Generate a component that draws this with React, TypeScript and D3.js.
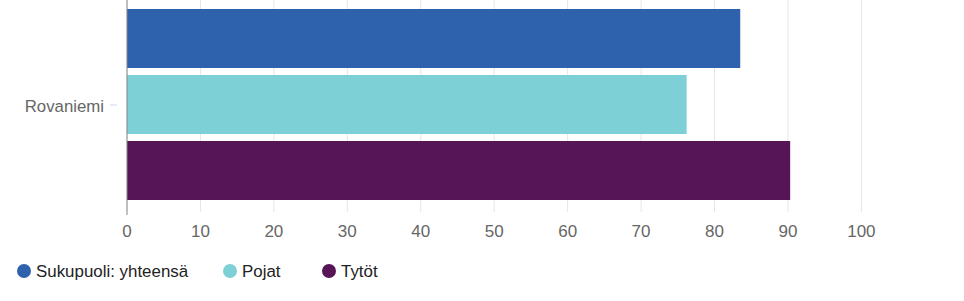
import React from "react";
import * as d3 from "d3";

const categories = ["Rovaniemi"];
const seriesNames = ["Sukupuoli: yhteensä", "Pojat", "Tytöt"];
const seriesValues = [83.5, 76.2, 90.3];
const seriesColors = ["#2f62ad", "#7dd0d6", "#561556"];
const xTicks = [0, 10, 20, 30, 40, 50, 60, 70, 80, 90, 100];

const W = 964;
const H = 301;
const plotLeft = 127;
const plotRight = 861.4;
const plotTop = 0;
const plotBottom = 210;
const font = "'Liberation Sans', Arial, sans-serif";

export default function App() {
  const x = d3.scaleLinear().domain([0, 100]).range([plotLeft, plotRight]);
  const yCat = d3.scaleBand().domain(categories).range([plotTop, plotBottom]);
  const ySer = d3
    .scaleBand()
    .domain(seriesNames)
    .range([9, 200])
    .paddingInner(0.106);
  const legendX = [24, 230, 329];

  return (
    <svg
      width={W}
      height={H}
      style={{ position: "absolute", left: 0, top: 0, fontFamily: font }}
    >
      <rect width={W} height={H} fill="#ffffff" />
      {xTicks.map((t) => (
        <line
          key={"g" + t}
          x1={x(t)}
          x2={x(t)}
          y1={plotTop}
          y2={212}
          stroke="#e6e6e6"
          strokeWidth={1}
        />
      ))}
      {categories.map((c) =>
        seriesNames.map((s, i) => (
          <rect
            key={c + s}
            x={x(0)}
            y={ySer(s)!}
            width={x(seriesValues[i]) - x(0)}
            height={ySer.bandwidth()}
            fill={seriesColors[i]}
          />
        ))
      )}
      <line x1={plotLeft} x2={plotLeft} y1={0} y2={215} stroke="#888" strokeWidth={1} />
      {categories.map((c) => {
        const cy = yCat(c)! + yCat.bandwidth() / 2;
        return (
          <g key={c}>
            <line x1={110} x2={117} y1={cy} y2={cy} stroke="#ccd6eb" strokeWidth={1} />
            <text
              x={104}
              y={cy + 1}
              dy="0.35em"
              textAnchor="end"
              fontSize={16.8}
              fill="#666"
            >
              {c}
            </text>
          </g>
        );
      })}
      {xTicks.map((t) => (
        <text
          key={"t" + t}
          x={x(t)}
          y={237}
          textAnchor="middle"
          fontSize={17}
          fill="#666"
        >
          {t}
        </text>
      ))}
      {seriesNames.map((s, i) => (
        <g key={"l" + s}>
          <circle cx={legendX[i]} cy={271} r={7} fill={seriesColors[i]} />
          <text x={legendX[i] + 12} y={277} fontSize={16.9} fill="#222">
            {s}
          </text>
        </g>
      ))}
    </svg>
  );
}
